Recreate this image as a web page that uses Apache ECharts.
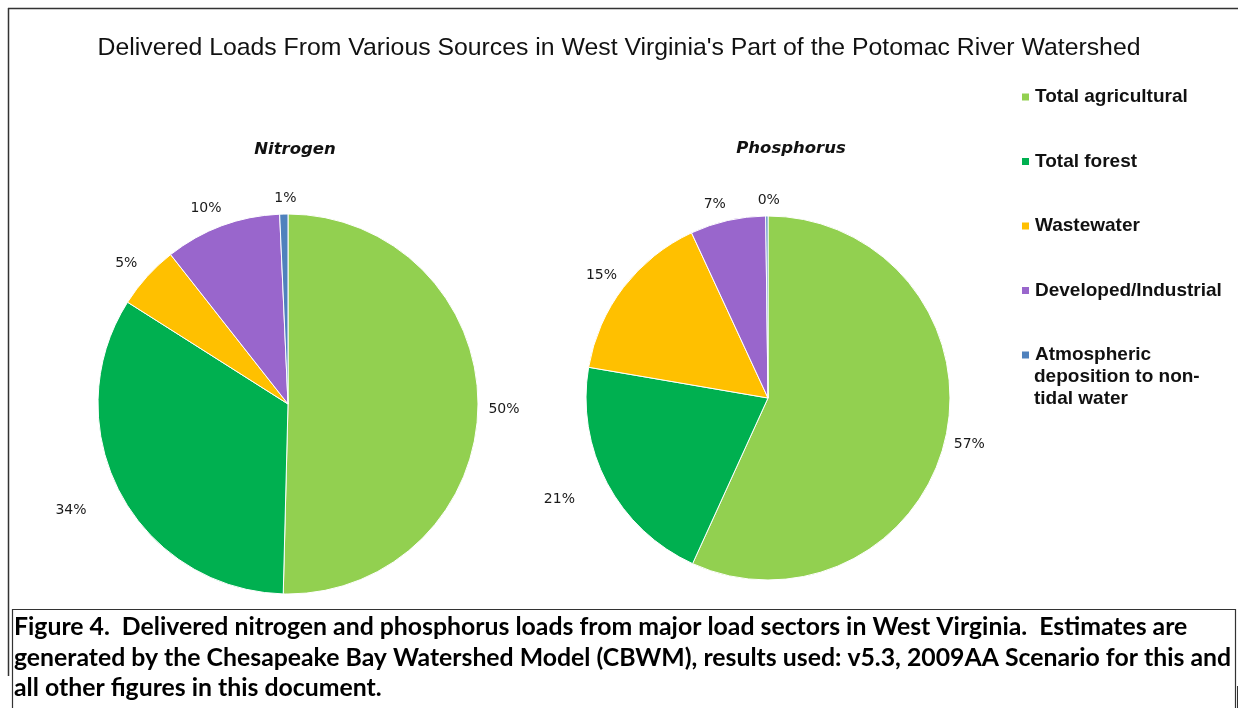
<!DOCTYPE html>
<html>
<head>
<meta charset="utf-8">
<style>
html,body{margin:0;padding:0;background:#fff;}
#chart{width:1238px;height:708px;}
</style>
<script src="https://cdn.jsdelivr.net/npm/echarts@6/dist/echarts.min.js"></script>
</head>
<body>
<div id="chart"></div>
<script>
var categories = ['Total agricultural', 'Total forest', 'Wastewater', 'Developed/Industrial', 'Atmospheric deposition to non-tidal water'];
var legendFirstLines = ['Total agricultural', 'Total forest', 'Wastewater', 'Developed/Industrial', 'Atmospheric'];
var legendExtraLines = 'deposition to non-\ntidal water';
var nitrogenValues = [50.4, 33.6, 5.4, 9.9, 0.7];
var phosphorusValues = [56.8, 20.9, 15.4, 6.7, 0.2];
var colors = ['#92D050', '#00B050', '#FFC000', '#9966CC', '#4F81BD'];
var mainTitle = "Delivered Loads From Various Sources in West Virginia's Part of the Potomac River Watershed";
var pieTitles = ['Nitrogen', 'Phosphorus'];
var captionLines = [
  'Figure 4.  Delivered nitrogen and phosphorus loads from major load sectors in West Virginia.  Estimates are',
  'generated by the Chesapeake Bay Watershed Model (CBWM), results used: v5.3, 2009AA Scenario for this and',
  'all other figures in this document.'
];
// label offset tweaks per slice (style only)
var nLabelLen = [26, 56, 24, 20, 16];
var pLabelLen = [24, 54, 24, 18, 16];
var labelDx = [0, 0, -3, -9, 2];
var labelDy = [3, -9, 3, 1, 0];

function buildData(values, lens) {
  return values.map(function (v, i) {
    return { name: categories[i], value: v, labelLine: { length: lens[i], length2: 0, show: false } };
  });
}

var chart = echarts.init(document.getElementById('chart'), null, { renderer: 'canvas' });

var labelCfg = {
  show: true, position: 'outside', formatter: '{d}%', alignTo: 'none', distanceToLabelLine: 0,
  fontFamily: 'DejaVu Sans', fontSize: 14, color: '#1a1a1a'
};
function labelLayoutFn(p) {
  return { align: 'center', verticalAlign: 'middle', dx: labelDx[p.dataIndex], dy: labelDy[p.dataIndex] };
}

var captionGraphics = captionLines.map(function (t, i) {
  return {
    type: 'text', left: 14, top: 615 + i * 30.5,
    style: { text: t, font: 'bold 24.8px Lato', fill: '#000' }
  };
});

var legendTextStyle = { fontFamily: 'Liberation Sans', fontWeight: 'bold', fontSize: 19, color: '#111', lineHeight: 22 };

chart.setOption({
  backgroundColor: '#fff',
  animation: false,
  color: colors,
  title: [
    { text: mainTitle, left: 'center', top: 31, textStyle: { fontFamily: 'Liberation Sans', fontSize: 24.8, fontWeight: 'normal', color: '#111' } },
    { text: pieTitles[0], left: 290, top: 136, textAlign: 'center', textStyle: { fontFamily: 'DejaVu Sans', fontStyle: 'italic', fontWeight: 'bold', fontSize: 16.5, color: '#111' } },
    { text: pieTitles[1], left: 786, top: 135, textAlign: 'center', textStyle: { fontFamily: 'DejaVu Sans', fontStyle: 'italic', fontWeight: 'bold', fontSize: 16.5, color: '#111' } }
  ],
  legend: {
    orient: 'vertical', left: 1020, top: 86, padding: 0,
    itemWidth: 9, itemHeight: 9, itemGap: 42.5, icon: 'rect',
    data: categories,
    formatter: function (name) { return legendFirstLines[categories.indexOf(name)]; },
    textStyle: legendTextStyle,
    selectedMode: false
  },
  series: [
    {
      type: 'pie', center: [288, 404], radius: 190, startAngle: 90, clockwise: true,
      avoidLabelOverlap: false, percentPrecision: 0,
      itemStyle: { borderColor: '#fff', borderWidth: 1 },
      label: labelCfg,
      labelLayout: labelLayoutFn,
      data: buildData(nitrogenValues, nLabelLen)
    },
    {
      type: 'pie', center: [768, 398], radius: 182, startAngle: 90, clockwise: true,
      avoidLabelOverlap: false, percentPrecision: 0,
      itemStyle: { borderColor: '#fff', borderWidth: 1 },
      label: labelCfg,
      labelLayout: labelLayoutFn,
      data: buildData(phosphorusValues, pLabelLen)
    }
  ],
  graphic: [
    { type: 'line', shape: { x1: 8, y1: 8.5, x2: 1238, y2: 8.5 }, style: { stroke: '#333', lineWidth: 1.5 } },
    { type: 'line', shape: { x1: 8.5, y1: 8, x2: 8.5, y2: 676 }, style: { stroke: '#333', lineWidth: 1.5 } },
    { type: 'rect', shape: { x: 12.5, y: 609.5, width: 1223, height: 110 }, style: { fill: 'none', stroke: '#333', lineWidth: 1.2 } },
    { type: 'line', shape: { x1: 1237.5, y1: 686, x2: 1237.5, y2: 708 }, style: { stroke: '#333', lineWidth: 1 } },
    { type: 'text', left: 1034, top: 366, style: { text: legendExtraLines, font: 'bold 19px "Liberation Sans"', fill: '#111', lineHeight: 22 } }
  ].concat(captionGraphics)
});
</script>
</body>
</html>
